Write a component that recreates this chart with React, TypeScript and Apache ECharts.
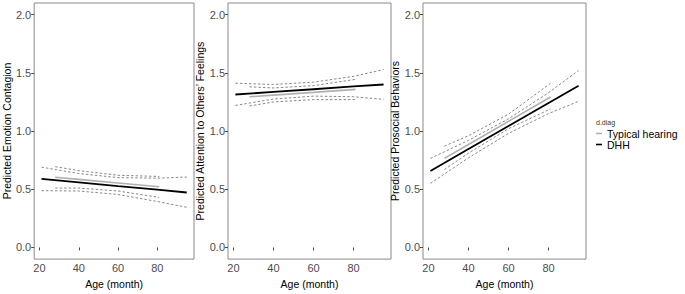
import React, { useEffect, useRef } from "react";
import * as echarts from "echarts";

// Axis ticks
const ageTicks = [20, 40, 60, 80];
const yTicks = [0, 0.5, 1.0, 1.5, 2.0];

// Ages at which predictions are read
const dhhAge = [21, 40, 60, 80, 95];
const thAge = [28, 40, 60, 81];

// Panel 1: Predicted Emotion Contagion
const ecDhhFit = [0.589, 0.559, 0.527, 0.496, 0.472];
const ecDhhUpper = [0.69, 0.635, 0.6, 0.595, 0.605];
const ecDhhLower = [0.488, 0.485, 0.455, 0.395, 0.345];
const ecThFit = [0.603, 0.585, 0.554, 0.522];
const ecThUpper = [0.694, 0.66, 0.62, 0.61];
const ecThLower = [0.51, 0.51, 0.485, 0.43];

// Panel 2: Predicted Attention to Others' Feelings
const atDhhFit = [1.314, 1.336, 1.359, 1.383, 1.4];
const atDhhUpper = [1.411, 1.4, 1.42, 1.47, 1.528];
const atDhhLower = [1.22, 1.275, 1.3, 1.295, 1.272];
const atThFit = [1.294, 1.309, 1.332, 1.358];
const atThUpper = [1.38, 1.37, 1.39, 1.444];
const atThLower = [1.215, 1.25, 1.27, 1.27];

// Panel 3: Predicted Prosocial Behaviors
const psDhhFit = [0.657, 0.845, 1.043, 1.241, 1.389];
const psDhhUpper = [0.765, 0.92, 1.105, 1.33, 1.52];
const psDhhLower = [0.55, 0.77, 0.98, 1.15, 1.255];
const psThFit = [0.765, 0.885, 1.083, 1.292];
const psThUpper = [0.87, 0.96, 1.145, 1.41];
const psThLower = [0.67, 0.81, 1.02, 1.19];

const panelTitles = [
  "Predicted Emotion Contagion",
  "Predicted Attention to Others\u2019 Feelings",
  "Predicted Prosocial Behaviors",
];
const xTitle = "Age (month)";
const legendTitle = "d.diag";
const groupNames = ["Typical hearing", "DHH"];

const FONT = "'Liberation Sans', Arial, sans-serif";
const pair = (xs: number[], ys: number[]) => xs.map((x, i) => [x, ys[i]]);

const panels = [
  { th: [ecThFit, ecThUpper, ecThLower], dhh: [ecDhhFit, ecDhhUpper, ecDhhLower] },
  { th: [atThFit, atThUpper, atThLower], dhh: [atDhhFit, atDhhUpper, atDhhLower] },
  { th: [psThFit, psThUpper, psThLower], dhh: [psDhhFit, psDhhUpper, psDhhLower] },
];

const gridLefts = [31, 228, 423];

export default function App() {
  const ref = useRef<HTMLDivElement>(null);
  useEffect(() => {
    document.body.style.margin = "0";
    if (!ref.current) return;
    const chart = echarts.init(ref.current, undefined, { renderer: "svg" });

    const grids = gridLefts.map((l) => ({
      left: l,
      top: 3,
      width: 163,
      height: 264,
      show: true,
      borderColor: "#8a8a8a",
      borderWidth: 1,
      backgroundColor: "#ffffff",
      containLabel: false,
    }));

    const xAxes = gridLefts.map((_, i) => ({
      type: "value",
      gridIndex: i,
      min: 17.3,
      max: 98.7,
      axisLine: { show: false },
      splitLine: { show: false },
      axisTick: { show: true, length: 3, lineStyle: { color: "#4d4d4d" }, customValues: ageTicks },
      axisLabel: {
        customValues: ageTicks,
        color: "#4d4d4d",
        fontSize: 11,
        fontFamily: FONT,
        margin: 3,
      },
      name: xTitle,
      nameLocation: "middle",
      nameGap: 14,
      nameTextStyle: { color: "#000", fontSize: 10.5, fontFamily: FONT, verticalAlign: "top" },
    }));

    const yAxes = gridLefts.map((_, i) => ({
      type: "value",
      gridIndex: i,
      min: -0.1,
      max: 2.1,
      axisLine: { show: false },
      splitLine: { show: false },
      axisTick: { show: true, length: 3, lineStyle: { color: "#4d4d4d" }, customValues: yTicks },
      axisLabel: {
        customValues: yTicks,
        formatter: (v: number) => v.toFixed(1),
        color: "#4d4d4d",
        fontSize: 11,
        fontFamily: FONT,
        margin: 3,
      },
      name: panelTitles[i],
      nameLocation: "middle",
      nameGap: 20,
      nameTextStyle: { color: "#000", fontSize: 10.5, fontFamily: FONT },
    }));

    const series: any[] = [];
    panels.forEach((p, i) => {
      const base = { type: "line", xAxisIndex: i, yAxisIndex: i, showSymbol: false, symbol: "none", silent: true };
      const dash = { color: "#7a7a7a", width: 0.9, type: [2.5, 2] };
      series.push({ ...base, name: `th-upper-${i}`, data: pair(thAge, p.th[1]), lineStyle: dash });
      series.push({ ...base, name: `th-lower-${i}`, data: pair(thAge, p.th[2]), lineStyle: dash });
      series.push({ ...base, name: `dhh-upper-${i}`, data: pair(dhhAge, p.dhh[1]), lineStyle: dash });
      series.push({ ...base, name: `dhh-lower-${i}`, data: pair(dhhAge, p.dhh[2]), lineStyle: dash });
      series.push({
        ...base,
        name: groupNames[0],
        data: pair(thAge, p.th[0]),
        itemStyle: { color: "#b0b0b0" },
        lineStyle: { color: "#b0b0b0", width: 1.6 },
      });
      series.push({
        ...base,
        name: groupNames[1],
        data: pair(dhhAge, p.dhh[0]),
        itemStyle: { color: "#000" },
        lineStyle: { color: "#000", width: 1.8 },
      });
    });

    chart.setOption({
      animation: false,
      backgroundColor: "#ffffff",
      grid: grids,
      xAxis: xAxes,
      yAxis: yAxes,
      series,
      legend: {
        orient: "vertical",
        left: 596,
        top: 128,
        padding: 0,
        itemGap: 0,
        itemWidth: 6,
        itemHeight: 1.6,
        selectedMode: false,
        data: [
          { name: groupNames[0], icon: "rect", itemStyle: { color: "#b0b0b0" } },
          { name: groupNames[1], icon: "rect", itemStyle: { color: "#000" } },
        ],
        textStyle: { color: "#000", fontSize: 10.5, fontFamily: FONT, lineHeight: 9, padding: 0 },
      },
      graphic: [
        {
          type: "text",
          left: 596,
          top: 119,
          style: { text: legendTitle, fontSize: 7, fontFamily: FONT, fill: "#333" },
        },
      ],
    });
    return () => chart.dispose();
  }, []);
  return <div ref={ref} style={{ width: 685, height: 294 }} />;
}
